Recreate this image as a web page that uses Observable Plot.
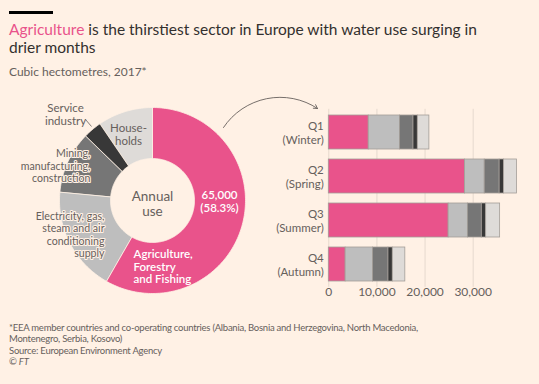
<!DOCTYPE html>
<html>
<head>
<meta charset="utf-8">
<script src="https://cdn.jsdelivr.net/npm/d3@7"></script>
<script src="https://cdn.jsdelivr.net/npm/@observablehq/plot@0.6"></script>
<style>
  html, body { margin: 0; padding: 0; background: #FFF1E5; }
  #wrap { position: relative; width: 539px; height: 384px; overflow: hidden; background: #FFF1E5; font-family: Lato, sans-serif; }
  #bar { position: absolute; left: 9px; top: 11px; width: 44px; height: 3px; background: #000; }
  #title { position: absolute; left: 9px; top: 20px; font-size: 15.5px; line-height: 18px; color: #33302E; }
  #title .hl { color: #E9538B; }
  #subtitle { position: absolute; left: 9px; top: 64px; font-size: 12px; color: #66605C; }
  #donut { position: absolute; left: 0; top: 85px; }
  #bars { position: absolute; left: 270px; top: 85px; }
  #footer { position: absolute; left: 9px; top: 322px; font-size: 9.5px; letter-spacing: -0.25px; line-height: 11.3px; color: #66605C; }
</style>
</head>
<body>
<div id="wrap">
  <div id="bar"></div>
  <div id="title"><span class="hl">Agriculture</span> is the thirstiest sector in Europe with water use surging in<br>drier months</div>
  <div id="subtitle">Cubic hectometres, 2017*</div>
  <div id="donut"></div>
  <div id="bars"></div>
  <div id="footer">*EEA member countries and co-operating countries (Albania, Bosnia and Herzegovina, North Macedonia,<br>Montenegro, Serbia, Kosovo)<br>Source: European Environment Agency<br>© <i>FT</i></div>
</div>
<script>
// ---- data ----
const quarters = ["Q1", "Q2", "Q3", "Q4"];
const quarterLabels = ["(Winter)", "(Spring)", "(Summer)", "(Autumn)"];
const sectors = [
  "Agriculture, Forestry and Fishing",
  "Electricity, gas, steam and air conditioning supply",
  "Mining, manufacturing, construction",
  "Service industry",
  "Households"
];
const agriculture = [8300, 28300, 24900, 3500];
const electricity = [6500, 4100, 4000, 5700];
const mining = [2800, 3100, 2900, 3200];
const service = [900, 900, 900, 900];
const households = [2400, 2700, 2900, 2600];
const xTicks = [0, 10000, 20000, 30000];

// ---- styling ----
const colors = ["#E9538B", "#BEBEBE", "#767676", "#383838", "#DEDBD8"];
const bg = "#FFF1E5";
const grey = "#66605C";

const seriesValues = [agriculture, electricity, mining, service, households];
const table = [];
quarters.forEach((q, i) => sectors.forEach((s, j) => table.push({quarter: q, sector: s, value: seriesValues[j][i]})));

const totals = sectors.map((s, j) => ({sector: s, total: d3.sum(seriesValues[j])}));
const grand = d3.sum(totals, d => d.total);

// ---- donut ----
const R0 = 42, R1 = 93;
const arcs = d3.pie().sort(null).value(d => d.total)(totals);
const poly = [];
for (const a of arcs) {
  const n = Math.max(4, Math.ceil((a.endAngle - a.startAngle) / 0.02));
  for (let k = 0; k <= n; k++) {
    const t = a.startAngle + (a.endAngle - a.startAngle) * k / n;
    poly.push({sector: a.data.sector, x: R1 * Math.sin(t), y: R1 * Math.cos(t)});
  }
  for (let k = n; k >= 0; k--) {
    const t = a.startAngle + (a.endAngle - a.startAngle) * k / n;
    poly.push({sector: a.data.sector, x: R0 * Math.sin(t), y: R0 * Math.cos(t)});
  }
}
const agriTotal = totals[0].total;

// annotation layout (offsets from donut centre, y up)
const labels = [
  {text: "House-\nholds", x: -24, y: 66, anchor: "middle", fill: grey, halo: false, size: 11.5},
  {text: "Service\nindustry", x: -87, y: 86, anchor: "middle", fill: grey, halo: false, size: 11.5},
  {text: "Mining,\nmanufacturing,\nconstruction", x: -62, y: 35, anchor: "end", fill: grey, halo: true, size: 10.6, lh: 1.2},
  {text: "Electricity, gas,\nsteam and air\nconditioning\nsupply", x: -48, y: -34, anchor: "end", fill: grey, halo: true, size: 10.6, lh: 1.17},
  {text: "Agriculture,\nForestry\nand Fishing", x: -19, y: -66, anchor: "start", fill: "#fff", halo: false, weight: 600, size: 11.5},
  {text: d3.format(",")(agriTotal) + "\n(" + d3.format(".1%")(agriTotal / grand) + ")", x: 67, y: -1, anchor: "middle", fill: "#fff", halo: false, weight: 600, size: 11.5}
];

const donut = Plot.plot({
  width: 330, height: 215,
  margin: 0,
  x: {domain: [-152, 178], axis: null},
  y: {domain: [-100, 115], axis: null},
  color: {domain: sectors, range: colors},
  style: {background: "transparent", fontFamily: "Lato, sans-serif", overflow: "visible"},
  marks: [
    Plot.line(poly, {x: "x", y: "y", z: "sector", fill: "sector", stroke: bg, strokeWidth: 0.8, curve: "linear-closed"}),
    Plot.text(["Annual\nuse"], {x: 0, y: -3, text: d => d, fill: grey, fontSize: 13.5, lineHeight: 1.15}),
    ...labels.map(l => Plot.text([l], {
      x: "x", y: "y", text: "text", textAnchor: l.anchor, fill: l.fill,
      fontSize: l.size, lineHeight: l.lh || 1.1,
      fontWeight: l.weight || 400,
      stroke: l.halo ? bg : null, strokeWidth: l.halo ? 2.2 : 0
    })),
    Plot.link([{x1: -67, y1: 81, x2: -61, y2: 74}], {x1: "x1", y1: "y1", x2: "x2", y2: "y2", stroke: grey, strokeWidth: 0.8}),
    Plot.arrow([{x1: 71, y1: 73, x2: 165, y2: 92}], {x1: "x1", y1: "y1", x2: "x2", y2: "y2", bend: 45, stroke: grey, strokeWidth: 0.9, headLength: 7})
  ]
});
document.getElementById("donut").append(donut);

// ---- bars ----
const labelOf = Object.fromEntries(quarters.map((q, i) => [q, q + "\n" + quarterLabels[i]]));
const fmt = d3.format(",");
const bars = Plot.plot({
  width: 269, height: 215,
  marginLeft: 58.3, marginRight: 18.2, marginTop: 23.8, marginBottom: 13.2,
  x: {domain: [0, 40000]},
  y: {domain: quarters, paddingInner: 0.2165, paddingOuter: 0.1},
  color: {domain: sectors, range: colors},
  style: {background: "transparent", fontFamily: "Lato, sans-serif", fontSize: "12px", color: grey, overflow: "visible"},
  marks: [
    Plot.gridX({ticks: xTicks, stroke: "#E6D9CE", strokeOpacity: 1, strokeWidth: 1}),
    Plot.barX(table, Plot.stackX({x: "value", y: "quarter", fill: "sector", stroke: "#a39d98", strokeWidth: 0.8, inset: 0})),
    Plot.axisX({ticks: xTicks, tickFormat: fmt, tickSize: 0, tickPadding: 0, fontSize: 12, fill: grey, label: null}),
    Plot.axisY({tickSize: 0, tickPadding: 5, tickFormat: d => labelOf[d], fontSize: 11.5, fill: grey, lineHeight: 1.2, label: null})
  ]
});
document.getElementById("bars").append(bars);
</script>
</body>
</html>
